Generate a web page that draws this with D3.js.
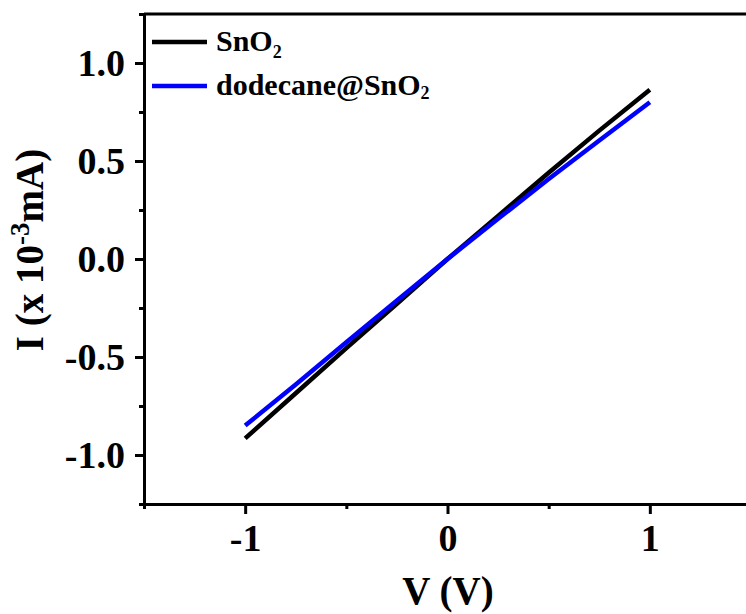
<!DOCTYPE html>
<html>
<head>
<meta charset="utf-8">
<script src="https://cdn.jsdelivr.net/npm/d3@7/dist/d3.min.js"></script>
<style>
  html, body { margin: 0; padding: 0; background: #fff; overflow: hidden; }
  svg { display: block; }
  text { font-family: "Liberation Serif", "Times New Roman", serif; font-weight: bold; fill: #000; }
</style>
</head>
<body>
<svg id="chart" width="746" height="614"></svg>
<script>
// Bias voltage (V)
const voltage = [-1, -0.75, -0.5, -0.25, 0, 0.25, 0.5, 0.75, 1];
// Current (x 10^-3 mA)
const currentSnO2 = [-0.915, -0.685, -0.455, -0.228, 0.0, 0.22, 0.44, 0.655, 0.864];
const currentDodecane = [-0.85, -0.64, -0.425, -0.212, 0.0, 0.205, 0.408, 0.605, 0.80];

const seriesNames = ["SnO", "dodecane@SnO"];
const seriesColors = ["#000000", "#0000ff"];

const xMajorTicks = [-1, 0, 1];
const xMinorTicks = [-1.5, -0.5, 0.5, 1.5];
const yMajorTicks = [-1.0, -0.5, 0.0, 0.5, 1.0];
const yMinorTicks = [-1.25, -0.75, -0.25, 0.25, 0.75, 1.25];

const svg = d3.select("#chart");
const plotLeft = 144, plotRight = 751, plotTop = 14, plotBottom = 504;

const x = d3.scaleLinear().domain([-1.5, 1.5]).range([plotLeft, plotRight]);
const y = d3.scaleLinear().domain([-1.25, 1.25]).range([plotBottom, plotTop]);

// frame top line (no ticks on top)
svg.append("line")
  .attr("x1", plotLeft).attr("x2", plotRight)
  .attr("y1", plotTop).attr("y2", plotTop)
  .attr("stroke", "#000").attr("stroke-width", 3);

function styleAxis(g) {
  g.select(".domain").attr("stroke", "#000").attr("stroke-width", 3);
  g.selectAll(".tick line").attr("stroke", "#000").attr("stroke-width", 3);
  g.selectAll(".tick text")
    .style("font-family", '"Liberation Serif", "Times New Roman", serif')
    .style("font-weight", "bold")
    .style("font-size", "38px")
    .attr("fill", "#000");
}

const minusFix = s => s.replace("\u2212", "-");

// x axis
const gx = svg.append("g").attr("transform", `translate(0,${plotBottom})`)
  .call(d3.axisBottom(x).tickValues(xMajorTicks).tickSize(10).tickSizeOuter(0)
    .tickPadding(10).tickFormat(d => minusFix(d3.format("d")(d))));
styleAxis(gx);
const gxm = svg.append("g").attr("transform", `translate(0,${plotBottom})`)
  .call(d3.axisBottom(x).tickValues(xMinorTicks).tickSize(5).tickSizeOuter(0).tickFormat(""));
styleAxis(gxm);
gxm.select(".domain").remove();

// y axis
const gy = svg.append("g").attr("transform", `translate(${plotLeft},0)`)
  .call(d3.axisLeft(y).tickValues(yMajorTicks).tickSize(9).tickSizeOuter(0)
    .tickPadding(10).tickFormat(d => minusFix(d3.format(".1f")(d))));
styleAxis(gy);
const gym = svg.append("g").attr("transform", `translate(${plotLeft},0)`)
  .call(d3.axisLeft(y).tickValues(yMinorTicks).tickSize(5).tickSizeOuter(0).tickFormat(""));
styleAxis(gym);
gym.select(".domain").remove();

// curves
const line = d3.line().x((d, i) => x(voltage[i])).y(d => y(d));
[currentSnO2, currentDodecane].forEach((vals, k) => {
  svg.append("path")
    .datum(vals)
    .attr("d", line)
    .attr("fill", "none")
    .attr("stroke", seriesColors[k])
    .attr("stroke-width", 4.5)
    .attr("stroke-linecap", "butt")
    .attr("stroke-linejoin", "round");
});

// legend
const legendY = [42, 86];
const subShift = [7, 4];
seriesNames.forEach((name, k) => {
  svg.append("line")
    .attr("x1", 152).attr("x2", 207)
    .attr("y1", legendY[k]).attr("y2", legendY[k])
    .attr("stroke", seriesColors[k]).attr("stroke-width", 4.5);
  const t = svg.append("text")
    .attr("x", 216).attr("y", legendY[k] + 9)
    .style("font-size", "30px");
  t.append("tspan").text(name);
  t.append("tspan").attr("dy", subShift[k]).style("font-size", "18px").text("2");
});

// axis titles
svg.append("text")
  .attr("x", 448).attr("y", 604)
  .attr("text-anchor", "middle")
  .style("font-size", "39px")
  .text("V (V)");

const yt = svg.append("text")
  .attr("transform", "translate(43,250) rotate(-90)")
  .attr("text-anchor", "middle")
  .style("font-size", "39px");
yt.append("tspan").text("I (x 10");
yt.append("tspan").attr("dy", -14).style("font-size", "27px").text("-3");
yt.append("tspan").attr("dy", 14).text("mA)");
</script>
</body>
</html>
